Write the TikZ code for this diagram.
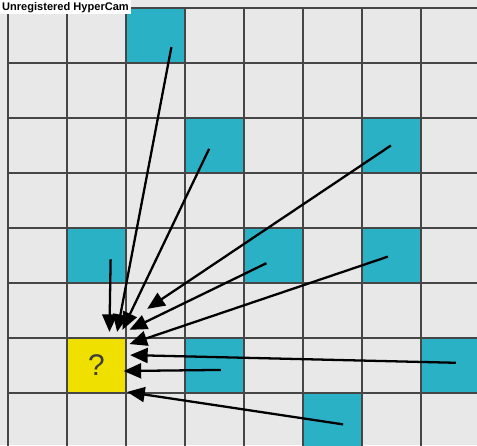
\documentclass[tikz,border=0pt]{standalone}
\usepackage{fontspec}
\setsansfont{Liberation Sans}
\usetikzlibrary{arrows.meta}
\definecolor{cellgray}{RGB}{232,232,232}
\definecolor{gridline}{RGB}{70,70,70}
\definecolor{tealcell}{RGB}{43,177,197}
\definecolor{queryyellow}{RGB}{240,224,0}
\definecolor{marktext}{RGB}{60,60,60}

\begin{document}
\begin{tikzpicture}[x=1.18cm, y=-1.1cm,
    cell/.style={minimum width=1.18cm, minimum height=1.1cm, inner sep=0pt},
    pull/.style={-{Triangle[length=10pt,width=8.5pt]}, line width=1.3pt, black}]
    % Frame and background
    \useasboundingbox (-0.135,-0.146) rectangle (7.95,7.95);
    \fill[cellgray] (-0.135,-0.146) rectangle (7.95,7.95);
    % Known cells
    \foreach \c/\r/\n in {2/0/ka, 3/2/kb, 6/2/kc, 1/4/kd, 4/4/ke, 6/4/kf, 3/6/kg, 7/6/kh, 5/7/ki} {
        \node[cell, fill=tealcell] (\n) at (\c+0.5,\r+0.5) {};
    }
    % Cell to estimate
    \node[cell, fill=queryyellow, text=marktext, font=\sffamily\fontsize{17}{17}\selectfont] (query) at (1.5,6.5) {?};
    % Grid
    \foreach \k in {0,...,8} {
        \draw[gridline, line width=1pt] (\k,0) -- (\k,8);
        \draw[gridline, line width=1pt] (0,\k) -- (8,\k);
    }
    % Arrows towards the unknown cell
    \foreach \i/\tx/\ty/\hx/\hy in {1/2.77/0.71/1.85/5.89, 2/3.41/2.56/1.94/5.85, 3/6.49/2.50/2.36/5.47,
        4/1.74/4.57/1.72/5.89, 5/4.38/4.64/2.06/5.85, 6/6.44/4.52/2.06/6.11,
        7/7.59/6.45/2.07/6.31, 8/3.61/6.58/1.96/6.60, 9/5.68/7.57/2.02/6.98} {
        \coordinate (t\i) at (\tx,\ty);
        \coordinate (h\i) at (\hx,\hy);
        \draw[pull] (t\i) -- (h\i);
    }
    % Recorder mark
    \node[anchor=north west, fill=white, inner sep=1pt, font=\sffamily\bfseries\fontsize{6.3}{7}\selectfont] (recmark) at (-0.135,-0.146) {Unregistered HyperCam};
\end{tikzpicture}
\end{document}
